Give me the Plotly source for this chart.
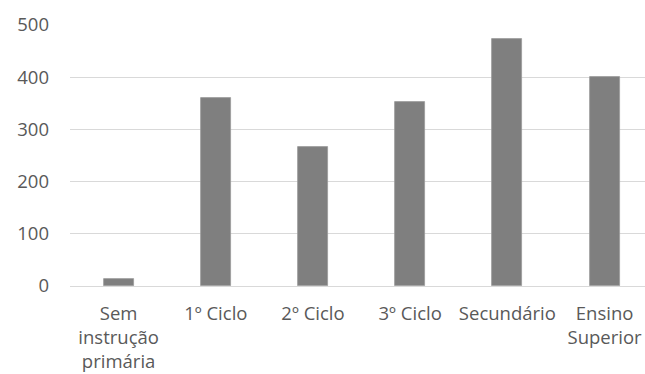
import plotly.graph_objects as go

# Education level categories and counts
categories = ["Sem<br>instrução<br>primária", "1º Ciclo", "2º Ciclo",
              "3º Ciclo", "Secundário", "Ensino<br>Superior"]
values = [13, 360, 267, 353, 473, 400]
y_ticks = [0, 100, 200, 300, 400, 500]

FONT = dict(family="'Open Sans', Lato, sans-serif", size=18.5, color="#595959")

fig = go.Figure(
    go.Bar(
        x=list(range(len(categories))),
        y=values,
        width=0.31,
        marker=dict(color="#7f7f7f", line=dict(color="#9a9a9a", width=0.8)),
        hoverinfo="skip",
    )
)

fig.update_layout(
    width=645,
    height=374,
    margin=dict(l=70, r=0, t=25, b=88),
    paper_bgcolor="white",
    plot_bgcolor="white",
    font=FONT,
    showlegend=False,
    bargap=0,
)

fig.update_xaxes(
    tickmode="array",
    tickvals=list(range(len(categories))),
    ticktext=categories,
    range=[-0.5, 5.416],
    showgrid=False,
    zeroline=False,
    showline=False,
    ticks="",
    tickangle=0,
    ticklabelstandoff=14,
    tickfont=FONT,
)

fig.update_yaxes(
    range=[0, 500],
    tickvals=y_ticks,
    showgrid=True,
    gridcolor="#d9d9d9",
    gridwidth=1.3,
    zeroline=True,
    zerolinecolor="#d9d9d9",
    zerolinewidth=1.3,
    showline=False,
    ticks="",
    ticklabelstandoff=20,
    tickfont=FONT,
)

fig.write_html("out.html")
